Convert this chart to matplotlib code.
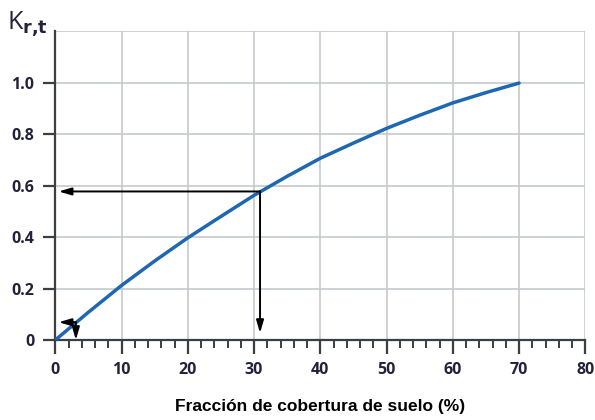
import matplotlib
matplotlib.use('Agg')
import matplotlib.pyplot as plt
from matplotlib.ticker import MultipleLocator

# valores
cobertura = [0, 5, 10, 15, 20, 25, 30, 35, 40, 45, 50, 55, 60, 65, 70]
kr = [0, 0.108, 0.212, 0.307, 0.397, 0.48, 0.562, 0.636, 0.706, 0.765, 0.822, 0.873, 0.921, 0.961, 0.998]

# lecturas marcadas con flechas: (cobertura, Kr)
lecturas = [(30.9, 0.577), (3.1, 0.069)]

x_ticks = [0, 10, 20, 30, 40, 50, 60, 70, 80]
x_labels = ['0', '10', '20', '30', '40', '50', '60', '70', '80']
y_ticks = [0, 0.2, 0.4, 0.6, 0.8, 1.0]
y_labels = ['0', '0.2', '0.4', '0.6', '0.8', '1.0']

eje = '#3a3f44'
rejilla = '#c3c9cf'
azul = '#1f67b0'
texto = '#22223a'
fuente = dict(family='Open Sans', weight='bold', size=11.5, color=texto)

fig = plt.figure(figsize=(5.95, 4.2), dpi=100)
ax = fig.add_axes([0.093, 0.1905, 0.8907, 0.7355])

ax.plot(cobertura, kr, color=azul, lw=2.5, solid_capstyle='round',
        solid_joinstyle='round', zorder=3)

flecha = dict(arrowstyle='-|>,head_length=0.75,head_width=0.22',
              color='black', lw=1.4, shrinkA=0, shrinkB=0)
for xv, yv in lecturas:
    ax.annotate('', xy=(0.5, yv), xytext=(xv, yv), arrowprops=flecha, zorder=4)
    ax.annotate('', xy=(xv, 0.027 if xv > 10 else 0.0), xytext=(xv, yv),
                arrowprops=flecha, zorder=4)

ax.set_xlim(0, 80)
ax.set_ylim(0, 1.2)
ax.set_xticks(x_ticks, x_labels, **fuente)
ax.set_yticks(y_ticks, y_labels, **fuente)
ax.xaxis.set_minor_locator(MultipleLocator(2))

ax.grid(True, color=rejilla, lw=1.2, zorder=0)
ax.axhline(1.2, color=rejilla, lw=1.2, zorder=0)
ax.set_axisbelow(True)

for s in ['top', 'right']:
    ax.spines[s].set_visible(False)
for s in ['left', 'bottom']:
    ax.spines[s].set_color(eje)
    ax.spines[s].set_linewidth(1.6)

ax.tick_params(axis='x', which='major', direction='out', length=10, width=1.6,
               color=eje, pad=6)
ax.tick_params(axis='x', which='minor', direction='out', length=6, width=1.4, color=eje)
ax.tick_params(axis='y', which='major', direction='out', length=9, width=1.6,
               color=eje, pad=6)

ax.set_xlabel('Fracción de cobertura de suelo (%)', fontfamily='Liberation Sans',
              fontweight='bold', fontsize=12.5, color='black', labelpad=15)
fig.text(0.012, 0.93, r'K$_{\mathbf{r{,}t}}$', fontfamily='Open Sans',
         fontsize=18, color=texto)

fig.savefig('out.png', dpi=100)
